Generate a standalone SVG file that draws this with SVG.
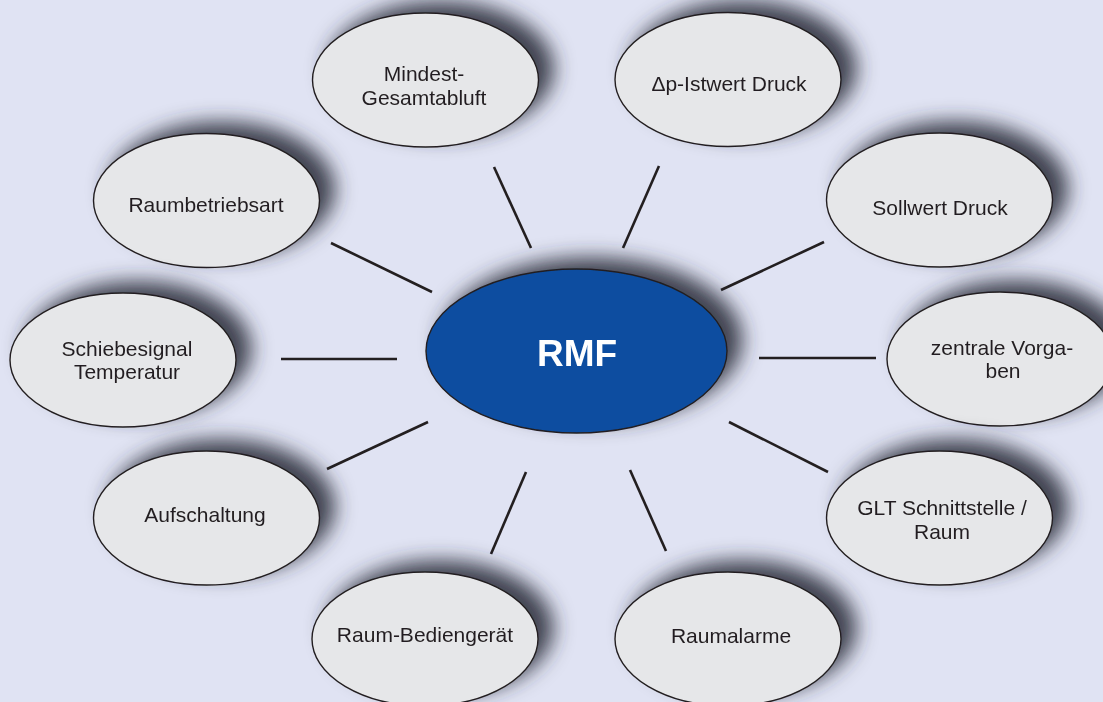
<svg xmlns="http://www.w3.org/2000/svg" width="1103" height="702" viewBox="0 0 1103 702">
  <defs>
    <!-- soft drop shadow cast up and to the right -->
    <filter id="shadow" x="-35%" y="-50%" width="170%" height="200%">
      <feGaussianBlur in="SourceAlpha" stdDeviation="10" result="blur"/>
      <feOffset in="blur" dx="15" dy="-11" result="off"/>
      <feFlood flood-color="#2a2d3a" flood-opacity="0.88"/>
      <feComposite in2="off" operator="in" result="shade"/>
      <feMerge>
        <feMergeNode in="shade"/>
        <feMergeNode in="SourceGraphic"/>
      </feMerge>
    </filter>
    <style>
      .node ellipse { fill: #e6e7e9; stroke: #231f20; stroke-width: 1.4; }
      .node text { font-family: "Liberation Sans", Arial, sans-serif; font-size: 21px; fill: #231f20; text-anchor: middle; }
      .hub ellipse { fill: #0d4ea0; stroke: #231f20; stroke-width: 1.4; }
      .hub text { font-family: "Liberation Sans", Arial, sans-serif; font-size: 37px; font-weight: bold; fill: #ffffff; text-anchor: middle; }
      .links line { stroke: #231f20; stroke-width: 2.6; stroke-linecap: butt; }
    </style>
  </defs>

  <rect x="0" y="0" width="1103" height="702" fill="#e0e3f3"/>

  <!-- spokes from the central node -->
  <g id="connectors" class="links">
    <line x1="494" y1="167" x2="531" y2="248"/>
    <line x1="659" y1="166" x2="623" y2="248"/>
    <line x1="331" y1="243" x2="432" y2="292"/>
    <line x1="824" y1="242" x2="721" y2="290"/>
    <line x1="281" y1="359" x2="397" y2="359"/>
    <line x1="759" y1="358" x2="876" y2="358"/>
    <line x1="327" y1="469" x2="428" y2="422"/>
    <line x1="729" y1="422" x2="828" y2="472"/>
    <line x1="526" y1="472" x2="491" y2="554"/>
    <line x1="630" y1="470" x2="666" y2="551"/>
  </g>

  <g id="mindest-gesamtabluft" class="node" filter="url(#shadow)">
    <ellipse cx="425.5" cy="80" rx="113" ry="67"/>
    <text x="424" y="81">Mindest-</text>
    <text x="424" y="105">Gesamtabluft</text>
  </g>

  <g id="dp-istwert-druck" class="node" filter="url(#shadow)">
    <ellipse cx="728" cy="79.5" rx="113" ry="67"/>
    <text x="729" y="91">Δp-Istwert Druck</text>
  </g>

  <g id="raumbetriebsart" class="node" filter="url(#shadow)">
    <ellipse cx="206.5" cy="200.5" rx="113" ry="67"/>
    <text x="206" y="212">Raumbetriebsart</text>
  </g>

  <g id="sollwert-druck" class="node" filter="url(#shadow)">
    <ellipse cx="939.5" cy="200" rx="113" ry="67"/>
    <text x="940" y="215">Sollwert Druck</text>
  </g>

  <g id="schiebesignal-temperatur" class="node" filter="url(#shadow)">
    <ellipse cx="123" cy="360" rx="113" ry="67"/>
    <text x="127" y="356">Schiebesignal</text>
    <text x="127" y="379">Temperatur</text>
  </g>

  <g id="zentrale-vorgaben" class="node" filter="url(#shadow)">
    <ellipse cx="1000" cy="359" rx="113" ry="67"/>
    <text x="1002" y="355">zentrale Vorga-</text>
    <text x="1003" y="378">ben</text>
  </g>

  <g id="aufschaltung" class="node" filter="url(#shadow)">
    <ellipse cx="206.5" cy="518" rx="113" ry="67"/>
    <text x="205" y="522">Aufschaltung</text>
  </g>

  <g id="glt-schnittstelle-raum" class="node" filter="url(#shadow)">
    <ellipse cx="939.5" cy="518" rx="113" ry="67"/>
    <text x="942" y="515">GLT Schnittstelle /</text>
    <text x="942" y="539">Raum</text>
  </g>

  <g id="raum-bediengeraet" class="node" filter="url(#shadow)">
    <ellipse cx="425" cy="639" rx="113" ry="67"/>
    <text x="425" y="642">Raum-Bediengerät</text>
  </g>

  <g id="raumalarme" class="node" filter="url(#shadow)">
    <ellipse cx="728" cy="639" rx="113" ry="67"/>
    <text x="731" y="643">Raumalarme</text>
  </g>

  <g id="rmf" class="hub" filter="url(#shadow)">
    <ellipse cx="576.5" cy="351" rx="150.5" ry="82"/>
    <text x="577" y="366">RMF</text>
  </g>
</svg>
